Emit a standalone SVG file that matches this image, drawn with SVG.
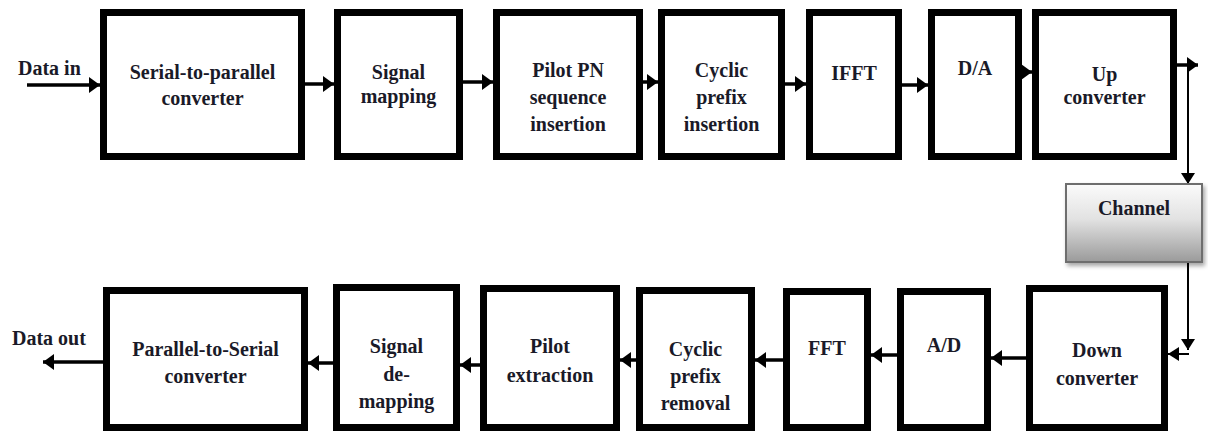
<svg xmlns="http://www.w3.org/2000/svg" width="1208" height="436" viewBox="0 0 1208 436">
<defs>
<style>
.box{fill:#fff;stroke:#000;stroke-width:7}
.t{font-family:"Liberation Serif","Times New Roman",serif;font-weight:bold;font-size:20px;fill:#1a1a28;text-anchor:middle}
.lbl{font-family:"Liberation Serif","Times New Roman",serif;font-weight:bold;font-size:20px;fill:#1a1a28}
.w{stroke:#000;stroke-width:3.5;fill:none}
.n{stroke:#000;stroke-width:2;fill:none}
</style>
<marker id="ah" viewBox="0 0 10 10" preserveAspectRatio="none" markerUnits="userSpaceOnUse" markerWidth="11" markerHeight="16" refX="10" refY="5" orient="auto">
<path d="M0,0 L10,5 L0,10 z" fill="#000"/>
</marker>
<marker id="ahs" viewBox="0 0 10 10" preserveAspectRatio="none" markerUnits="userSpaceOnUse" markerWidth="11" markerHeight="14" refX="10" refY="5" orient="auto">
<path d="M0,0 L10,5 L0,10 z" fill="#000"/>
</marker>
<linearGradient id="chg" x1="0" y1="0" x2="0" y2="1">
<stop offset="0" stop-color="#fbfbfb"/>
<stop offset="0.45" stop-color="#e2e2e2"/>
<stop offset="1" stop-color="#9a9a9a"/>
</linearGradient>
<filter id="sh" x="-10%" y="-10%" width="130%" height="140%">
<feDropShadow dx="2" dy="3" stdDeviation="2" flood-color="#000" flood-opacity="0.35"/>
</filter>
</defs>

<g id="connectors">
<line class="w" x1="27" y1="85" x2="100" y2="85" marker-end="url(#ah)"/>
<line class="w" x1="305" y1="84" x2="334" y2="84" marker-end="url(#ah)"/>
<line class="w" x1="463" y1="82" x2="493" y2="82" marker-end="url(#ah)"/>
<line class="w" x1="643" y1="82" x2="658" y2="82" marker-end="url(#ah)"/>
<line class="w" x1="785" y1="84" x2="806" y2="84" marker-end="url(#ah)"/>
<line class="w" x1="902" y1="85" x2="928" y2="85" marker-end="url(#ah)"/>
<line class="w" x1="1020" y1="72" x2="1032" y2="72" marker-end="url(#ah)"/>
<line class="w" x1="1177" y1="65" x2="1198" y2="65" marker-end="url(#ah)"/>
<line class="n" x1="1188" y1="65" x2="1188" y2="184" marker-end="url(#ahs)"/>
<line class="n" x1="1188" y1="262" x2="1188" y2="350" marker-end="url(#ahs)"/>
<line class="n" x1="1189" y1="354" x2="1168" y2="354" marker-end="url(#ahs)"/>
<line class="w" x1="1026" y1="358" x2="991" y2="358" marker-end="url(#ah)"/>
<line class="w" x1="897" y1="355" x2="871" y2="355" marker-end="url(#ah)"/>
<line class="w" x1="783" y1="360" x2="755" y2="360" marker-end="url(#ah)"/>
<line class="w" x1="636" y1="360" x2="620" y2="360" marker-end="url(#ah)"/>
<line class="w" x1="480" y1="365" x2="460" y2="365" marker-end="url(#ah)"/>
<line class="w" x1="333" y1="363" x2="308" y2="363" marker-end="url(#ah)"/>
<line class="w" x1="103" y1="362" x2="43" y2="362" marker-end="url(#ah)"/>
</g>

<g id="labels">
<text class="lbl" x="18" y="75">Data in</text>
<text class="lbl" x="12" y="345">Data out</text>
</g>

<g id="s2p">
<rect class="box" x="103.5" y="12.5" width="198" height="144"/>
<text class="t" x="202.5" y="79">Serial-to-parallel</text>
<text class="t" x="202.5" y="105">converter</text>
</g>
<g id="smap">
<rect class="box" x="337.5" y="12.5" width="122" height="144"/>
<text class="t" x="398.5" y="79">Signal</text>
<text class="t" x="398.5" y="103">mapping</text>
</g>
<g id="pilot">
<rect class="box" x="496.5" y="12.5" width="143" height="144"/>
<text class="t" x="568" y="77">Pilot PN</text>
<text class="t" x="568" y="104">sequence</text>
<text class="t" x="568" y="131">insertion</text>
</g>
<g id="cpins">
<rect class="box" x="661.5" y="12.5" width="120" height="144"/>
<text class="t" x="721.5" y="77">Cyclic</text>
<text class="t" x="721.5" y="104">prefix</text>
<text class="t" x="721.5" y="131">insertion</text>
</g>
<g id="ifft">
<rect class="box" x="809.5" y="12.5" width="89" height="144"/>
<text class="t" x="854" y="80">IFFT</text>
</g>
<g id="da">
<rect class="box" x="931.5" y="12.5" width="87" height="144"/>
<text class="t" x="975" y="75">D/A</text>
</g>
<g id="up">
<rect class="box" x="1035.5" y="12.5" width="138" height="144"/>
<text class="t" x="1104.5" y="81">Up</text>
<text class="t" x="1104.5" y="104">converter</text>
</g>

<g id="channel">
<rect x="1066" y="184" width="136" height="78" fill="url(#chg)" stroke="#6e6e6e" stroke-width="2" filter="url(#sh)"/>
<text class="t" x="1134" y="215">Channel</text>
</g>

<g id="down">
<rect class="box" x="1029.5" y="288.5" width="135" height="139"/>
<text class="t" x="1097" y="357">Down</text>
<text class="t" x="1097" y="385">converter</text>
</g>
<g id="ad">
<rect class="box" x="900.5" y="291.5" width="87" height="136"/>
<text class="t" x="944" y="352">A/D</text>
</g>
<g id="fft">
<rect class="box" x="786.5" y="291.5" width="81" height="136"/>
<text class="t" x="827" y="355">FFT</text>
</g>
<g id="cprem">
<rect class="box" x="639.5" y="290.5" width="112" height="137"/>
<text class="t" x="695.5" y="356">Cyclic</text>
<text class="t" x="695.5" y="383">prefix</text>
<text class="t" x="695.5" y="410">removal</text>
</g>
<g id="pext">
<rect class="box" x="483.5" y="288.5" width="133" height="139"/>
<text class="t" x="550" y="353">Pilot</text>
<text class="t" x="550" y="382">extraction</text>
</g>
<g id="sdemap">
<rect class="box" x="336.5" y="287.5" width="120" height="140"/>
<text class="t" x="396.5" y="353">Signal</text>
<text class="t" x="396.5" y="381">de-</text>
<text class="t" x="396.5" y="408">mapping</text>
</g>
<g id="p2s">
<rect class="box" x="106.5" y="290.5" width="198" height="137"/>
<text class="t" x="205.5" y="356">Parallel-to-Serial</text>
<text class="t" x="205.5" y="383">converter</text>
</g>
</svg>
